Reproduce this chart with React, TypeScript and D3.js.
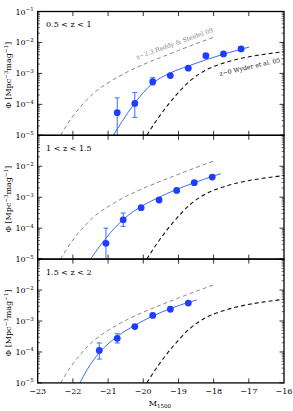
import * as d3 from "d3";
import React, { useRef, useEffect } from "react";

const width = 293;
const height = 411;
const margin = { top: 11.5, left: 37.7, right: 9 };
const panelHeight = 123.8;
const font = "DejaVu Serif, serif";

const magTicks = [-23, -22, -21, -20, -19, -18, -17, -16];
const decades = [-5, -4, -3, -2, -1];
const panelLabels = ["0.5 < z < 1", "1 < z < 1.5", "1.5 < z < 2"];

// measured points, log10(phi)
const pointMags = [
  [-20.74, -20.24, -19.73, -19.23, -18.72, -18.22, -17.72, -17.22],
  [-21.06, -20.57, -20.06, -19.55, -19.05, -18.55, -18.04],
  [-21.25, -20.74, -20.24, -19.73, -19.23, -18.72],
];
const pointLogPhi = [
  [-4.27, -3.97, -3.27, -3.07, -2.83, -2.43, -2.37, -2.21],
  [-4.49, -3.73, -3.34, -3.09, -2.78, -2.53, -2.35],
  [-3.95, -3.56, -3.18, -2.82, -2.62, -2.42],
];
const errHi = [
  [-3.79, -3.62, -3.14, -3.03, -2.8, -2.4, -2.34, -2.18],
  [-4.0, -3.51, -3.28, -3.05, -2.75, -2.5, -2.32],
  [-3.71, -3.41, -3.14, -2.79, -2.59, -2.39],
];
const errLo = [
  [-5.2, -4.42, -3.37, -3.11, -2.86, -2.46, -2.4, -2.24],
  [-5.2, -3.94, -3.4, -3.13, -2.81, -2.56, -2.38],
  [-4.23, -3.71, -3.22, -2.85, -2.65, -2.45],
];

// fitted curves [M, log10 phi]
const fitCurves = [
  [[-20.85, -5], [-20.6, -4.55], [-20.43, -4.26], [-20.24, -3.96], [-20.0, -3.62], [-19.72, -3.31], [-19.24, -2.99], [-18.72, -2.76], [-18.22, -2.56], [-17.72, -2.38], [-17.22, -2.22], [-16.99, -2.15]],
  [[-21.5, -5], [-21.3, -4.68], [-21.07, -4.34], [-20.8, -3.98], [-20.55, -3.7], [-20.3, -3.48], [-20.04, -3.29], [-19.55, -3.0], [-19.05, -2.75], [-18.55, -2.53], [-18.04, -2.33], [-17.8, -2.24]],
  [[-21.8, -5], [-21.6, -4.58], [-21.4, -4.24], [-21.25, -4.02], [-21.0, -3.74], [-20.74, -3.5], [-20.24, -3.14], [-19.73, -2.84], [-19.23, -2.6], [-18.72, -2.4], [-18.48, -2.32]],
];
const reddyCurve = [[-22.35, -5], [-22.05, -4.46], [-21.8, -4.1], [-21.4, -3.63], [-20.95, -3.27], [-20.5, -2.98], [-20.09, -2.76], [-19.52, -2.49], [-19.0, -2.26], [-18.5, -2.04], [-17.99, -1.83]];
const wyderCurve = [[-19.9, -5], [-19.6, -4.48], [-19.14, -3.8], [-18.67, -3.24], [-18.2, -2.88], [-17.7, -2.66], [-17.25, -2.52], [-16.6, -2.39], [-16.0, -2.3]];

const blue = "#1f3dff";
const fitBlue = "#3d6bff";

export default function App() {
  const ref = useRef(null);

  useEffect(() => {
    const svg = d3.select(ref.current);
    svg.selectAll("*").remove();

    const x = d3.scaleLinear().domain([-23, -16]).range([margin.left, width - margin.right]);

    panelLabels.forEach((label, p) => {
      const top = margin.top + p * panelHeight;
      const bottom = top + panelHeight;
      const y = d3.scaleLog().domain([1e-5, 1e-1]).range([bottom, top]);
      const g = svg.append("g");

      const clipId = "clip" + p;
      svg.append("clipPath").attr("id", clipId)
        .append("rect").attr("x", x(-23)).attr("y", top).attr("width", x(-16) - x(-23)).attr("height", panelHeight);

      const line = d3.line().x(d => x(d[0])).y(d => y(10 ** d[1])).curve(d3.curveMonotoneX);
      const plot = g.append("g").attr("clip-path", `url(#${clipId})`);

      plot.append("path").attr("d", line(reddyCurve)).attr("fill", "none")
        .attr("stroke", "#888").attr("stroke-width", 1).attr("stroke-dasharray", "4,3");
      plot.append("path").attr("d", line(wyderCurve)).attr("fill", "none")
        .attr("stroke", "#111").attr("stroke-width", 1.1).attr("stroke-dasharray", "4,3");
      plot.append("path").attr("d", line(fitCurves[p])).attr("fill", "none")
        .attr("stroke", fitBlue).attr("stroke-width", 1);

      const pts = pointMags[p].map((m, i) => ({ m, v: pointLogPhi[p][i], hi: errHi[p][i], lo: errLo[p][i] }));
      plot.selectAll(".err").data(pts).join("line")
        .attr("x1", d => x(d.m)).attr("x2", d => x(d.m))
        .attr("y1", d => y(10 ** d.hi)).attr("y2", d => y(10 ** d.lo))
        .attr("stroke", fitBlue).attr("stroke-width", 1);
      ["hi", "lo"].forEach(k => {
        plot.selectAll(".cap" + k).data(pts.filter(d => d[k] > -5)).join("line")
          .attr("x1", d => x(d.m) - 2.5).attr("x2", d => x(d.m) + 2.5)
          .attr("y1", d => y(10 ** d[k])).attr("y2", d => y(10 ** d[k]))
          .attr("stroke", fitBlue).attr("stroke-width", 1);
      });
      plot.selectAll("circle").data(pts).join("circle")
        .attr("cx", d => x(d.m)).attr("cy", d => y(10 ** d.v)).attr("r", 3.4)
        .attr("fill", blue);

      // ticks
      const ticks = g.append("g").attr("stroke", "#000").attr("stroke-width", 0.8);
      magTicks.slice(1, -1).forEach(t => {
        ticks.append("line").attr("x1", x(t)).attr("x2", x(t)).attr("y1", bottom).attr("y2", bottom - 4.5);
        ticks.append("line").attr("x1", x(t)).attr("x2", x(t)).attr("y1", top).attr("y2", top + 4.5);
      });
      decades.forEach(dv => {
        const yy = y(10 ** dv);
        ticks.append("line").attr("x1", x(-23)).attr("x2", x(-23) + 4.5).attr("y1", yy).attr("y2", yy);
        ticks.append("line").attr("x1", x(-16)).attr("x2", x(-16) - 4.5).attr("y1", yy).attr("y2", yy);
        if (dv < -1) {
          d3.range(2, 10).forEach(k => {
            const ym = y(k * 10 ** dv);
            ticks.append("line").attr("x1", x(-23)).attr("x2", x(-23) + 2.3).attr("y1", ym).attr("y2", ym).attr("stroke-width", 0.6);
            ticks.append("line").attr("x1", x(-16)).attr("x2", x(-16) - 2.3).attr("y1", ym).attr("y2", ym).attr("stroke-width", 0.6);
          });
        }
      });

      g.append("rect").attr("x", x(-23)).attr("y", top).attr("width", x(-16) - x(-23)).attr("height", panelHeight)
        .attr("fill", "none").attr("stroke", "#000").attr("stroke-width", 1.3);

      // y tick labels
      decades.filter(dv => p === 0 || dv < -1).forEach(dv => {
        const t = g.append("text").attr("x", x(-23) - 4).attr("y", y(10 ** dv) + 3)
          .attr("text-anchor", "end").attr("font-family", font).attr("font-size", 8);
        t.append("tspan").text("10");
        t.append("tspan").attr("dy", -3.5).attr("font-size", 5.5).text("\u2212" + (-dv));
      });

      // y title
      const yt = g.append("text")
        .attr("transform", `translate(11,${(top + bottom) / 2 + 2}) rotate(-90)`)
        .attr("text-anchor", "middle").attr("font-family", font).attr("font-size", 8);
      yt.append("tspan").text("\u03A6 [Mpc");
      yt.append("tspan").attr("dy", -3).attr("font-size", 5.5).text("\u22123");
      yt.append("tspan").attr("dy", 3).text("mag");
      yt.append("tspan").attr("dy", -3).attr("font-size", 5.5).text("\u22121");
      yt.append("tspan").attr("dy", 3).text("]");

      g.append("text").attr("x", 46).attr("y", top + 15.5)
        .attr("font-family", font).attr("font-size", 8).text(label);

      if (p === 0) {
        g.append("text")
          .attr("transform", `translate(137,${y(10 ** -2.55)}) rotate(-20)`)
          .attr("font-family", font).attr("font-size", 6.2).attr("fill", "#888")
          .text("z\u223C2.3 Reddy & Steidel 09");
        g.append("text")
          .attr("transform", `translate(220,${y(10 ** -3.08)}) rotate(-13)`)
          .attr("font-family", font).attr("font-size", 6.2).attr("fill", "#111")
          .text("z\u223C0 Wyder et al. 05");
      }

      if (p === panelLabels.length - 1) {
        magTicks.forEach(t => {
          g.append("text").attr("x", x(t)).attr("y", bottom + 11.5)
            .attr("text-anchor", "middle").attr("font-family", font).attr("font-size", 8)
            .text("\u2212" + (-t));
        });
        const xt = g.append("text").attr("x", x(-19.5) - 12).attr("y", bottom + 23)
          .attr("font-family", font).attr("font-size", 8);
        xt.append("tspan").text("M");
        xt.append("tspan").attr("dy", 2.5).attr("font-size", 5.5).text("1500");
      }
    });
  }, []);

  return (
    <svg
      ref={ref}
      width={width}
      height={height}
      style={{ position: "absolute", left: 0, top: 0, background: "#fff" }}
    />
  );
}
